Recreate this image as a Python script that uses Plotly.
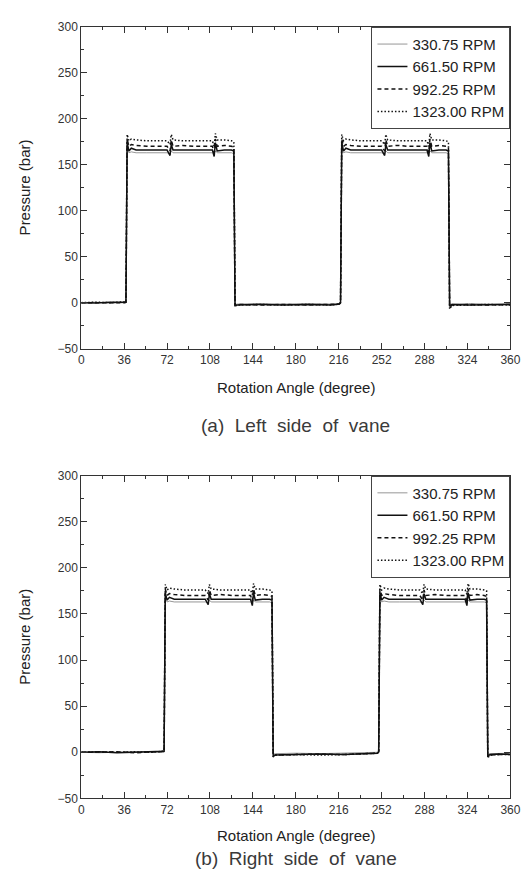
import plotly.graph_objects as go

# ---------------- data ----------------
series_names = ["330.75 RPM", "661.50 RPM", "992.25 RPM", "1323.00 RPM"]

# (a) Left side of vane
angle_a = [0, 12, 24, 36.5,
           37.5, 38.5, 40, 42, 46, 55, 65, 72, 74.5, 75.5, 77, 85, 95, 105, 110, 111.5, 112.5, 114, 120, 126, 128, 129,
           131, 150, 170, 190, 210, 216.5,
           217.5, 218.5, 220, 222, 226, 235, 245, 252, 254.5, 255.5, 257, 265, 275, 285, 290, 291.5, 292.5, 294, 300, 306, 308, 309,
           311, 325, 340, 360]

p_a_330 = [0, 0.5, -0.5, 0,
           0, 168, 163, 164, 163, 163, 163, 163, 162, 165, 163, 163, 163, 163, 163, 162, 165, 163, 163, 163, 162, -2,
           -1.5, -1, -1.5, -1, -1.5, -1,
           0, 168, 163, 164, 163, 163, 163, 163, 162, 165, 163, 163, 163, 163, 163, 162, 165, 163, 163, 163, 162, -2,
           -1.5, -1, -1.5, -1]
p_a_661 = [0, -0.5, 0.5, 0.5,
           0.5, 174, 165, 168, 166, 166, 166, 166, 160, 172, 166, 166, 166, 166, 166, 159, 174, 165, 166, 166, 165, -3,
           -2.5, -2, -2.5, -2, -2.5, -1.5,
           0, 174, 165, 168, 166, 166, 166, 166, 160, 172, 166, 166, 166, 166, 166, 159, 174, 165, 166, 166, 165, -4,
           -2, -2.5, -2, -2]
p_a_992 = [0, 0, -0.5, 0,
           0.5, 178, 170, 172, 171, 170, 170, 170, 165, 177, 170, 171, 170, 170, 170, 163, 178, 170, 171, 170, 169, -3,
           -2, -2.5, -2, -2.5, -2, -1.5,
           0, 178, 170, 172, 171, 170, 170, 170, 165, 177, 170, 171, 170, 170, 170, 163, 178, 170, 171, 170, 169, -5,
           -2.5, -2, -2.5, -2]
p_a_1323 = [0, 0.5, 0, 0.5,
            1, 183, 176, 178, 177, 176, 176, 176, 172, 183, 177, 176, 176, 176, 176, 170, 184, 177, 177, 176, 175, -4,
            -2.5, -2, -2.5, -2, -2.5, -1.5,
            0.5, 183, 176, 178, 177, 176, 176, 176, 172, 183, 177, 176, 176, 176, 176, 170, 184, 177, 177, 176, 175, -7,
            -3, -2.5, -2, -2.5]

# (b) Right side of vane
angle_b = [0, 15, 30, 45, 60, 68.5,
           69.5, 70.5, 72, 74, 78, 87, 97, 104, 106.5, 107.5, 109, 117, 127, 137, 142, 143.5, 144.5, 146, 152, 158, 160, 161,
           163, 180, 200, 220, 240, 248.5,
           249.5, 250.5, 252, 254, 258, 267, 277, 284, 286.5, 287.5, 289, 297, 307, 317, 322, 323.5, 324.5, 326, 332, 338, 340, 341,
           343, 350, 360]

p_b_330 = [0, -0.5, 0, 0.5, 0, 0,
           0, 167, 163, 164, 163, 163, 163, 163, 162, 165, 163, 163, 163, 163, 163, 162, 165, 163, 163, 163, 162, -2,
           -1.5, -1, -1.5, -1, -1, -0.5,
           0, 167, 163, 164, 163, 163, 163, 163, 162, 165, 163, 163, 163, 163, 163, 162, 165, 163, 163, 163, 162, -2,
           -1.5, -1, -1]
p_b_661 = [0, 0.5, -0.5, 0, 0.5, 0.5,
           1, 173, 165, 168, 166, 166, 166, 166, 160, 172, 166, 166, 166, 166, 166, 159, 173, 165, 166, 166, 165, -4,
           -3, -2.5, -2, -2.5, -2, -1,
           0.5, 173, 165, 168, 166, 166, 166, 166, 160, 172, 166, 166, 166, 166, 166, 159, 173, 165, 166, 166, 165, -4,
           -2.5, -2, -2.5]
p_b_992 = [0, 0, 0.5, -0.5, 0, 0.5,
           1, 177, 170, 172, 171, 170, 170, 170, 165, 176, 170, 171, 170, 170, 170, 164, 177, 170, 171, 170, 169, -4,
           -3, -2.5, -2, -2.5, -2, -1,
           0.5, 177, 170, 172, 171, 170, 170, 170, 165, 176, 170, 171, 170, 170, 170, 164, 177, 170, 171, 170, 169, -5,
           -3, -2.5, -2]
p_b_1323 = [0, 0.5, 0, 0.5, 0, 1,
            1.5, 182, 176, 178, 177, 176, 176, 176, 172, 182, 177, 176, 176, 176, 176, 171, 183, 177, 177, 176, 175, -5,
            -3, -2.5, -3, -2.5, -2, -1,
            1, 182, 176, 178, 177, 176, 176, 176, 172, 182, 177, 176, 176, 176, 176, 171, 183, 177, 177, 176, 175, -6,
            -3, -2.5, -2.5]

x_ticks = [0, 36, 72, 108, 144, 180, 216, 252, 288, 324, 360]
y_ticks = [-50, 0, 50, 100, 150, 200, 250, 300]

# ---------------- styles ----------------
styles = [
    dict(color="#8a8a8a", width=0.9, dash="solid"),
    dict(color="#111111", width=1.5, dash="solid"),
    dict(color="#111111", width=1.5, dash="4px,3px"),
    dict(color="#111111", width=1.5, dash="1.5px,2px"),
]

fig = go.Figure()

data_a = [p_a_330, p_a_661, p_a_992, p_a_1323]
data_b = [p_b_330, p_b_661, p_b_992, p_b_1323]

for name, ys, st in zip(series_names, data_a, styles):
    fig.add_trace(go.Scatter(x=angle_a, y=ys, mode="lines", name=name, line=st,
                             xaxis="x", yaxis="y", legend="legend", showlegend=True))
for name, ys, st in zip(series_names, data_b, styles):
    fig.add_trace(go.Scatter(x=angle_b, y=ys, mode="lines", name=name, line=st,
                             xaxis="x2", yaxis="y2", legend="legend2", showlegend=True))

W, H = 530, 884
xd = [72 / W, 512 / W]
yd_a = [1 - 339 / H, 1 - 12 / H]
yd_b = [1 - 796 / H, 1 - 468 / H]

tickfont = dict(family="Liberation Sans, Arial", size=12, color="#333333")

def xaxis_cfg(anchor):
    return dict(domain=xd, anchor=anchor, range=[0, 360], tickvals=x_ticks, ticks="inside",
                ticklen=6, tickwidth=1, tickcolor="#333", showline=True, linecolor="#333",
                linewidth=1, mirror="ticks", showgrid=False, zeroline=False, tickfont=tickfont,
                minor=dict(ticks="inside", dtick=18, tick0=0, ticklen=3, tickcolor="#333", showgrid=False))

def yaxis_cfg(anchor, dom):
    return dict(domain=dom, anchor=anchor, range=[-50, 300], tickvals=y_ticks, ticks="inside",
                ticklen=6, tickwidth=1, tickcolor="#333", showline=True, linecolor="#333",
                linewidth=1, mirror="ticks", showgrid=False, zeroline=False, tickfont=tickfont,
                minor=dict(ticks="inside", dtick=25, tick0=0, ticklen=3, tickcolor="#333", showgrid=False))

legend_cfg = dict(xanchor="right", yanchor="top", bgcolor="white", bordercolor="#444", borderwidth=1,
                  font=dict(family="Liberation Sans, Arial", size=15, color="#222"),
                  tracegroupgap=0, itemwidth=30)

fig.update_layout(
    width=W, height=H,
    margin=dict(l=0, r=0, t=0, b=0),
    paper_bgcolor="white", plot_bgcolor="white",
    xaxis=xaxis_cfg("y"), yaxis=yaxis_cfg("x", yd_a),
    xaxis2=xaxis_cfg("y2"), yaxis2=yaxis_cfg("x2", yd_b),
    legend=dict(x=xd[1], y=yd_a[1], **legend_cfg),
    legend2=dict(x=xd[1], y=yd_b[1], **legend_cfg),
)

lab = dict(family="Liberation Sans, Arial", size=15, color="#222")
cap = dict(family="Liberation Sans, Arial", size=19, color="#3a3a3a")
xc = (xd[0] + xd[1]) / 2
ann = [
    dict(text="Rotation Angle (degree)", x=xc, y=1 - 378 / H, font=lab),
    dict(text="(a)  Left  side  of  vane".replace("  ", "\u00a0 "), x=xc, y=1 - 417 / H, font=cap),
    dict(text="Rotation Angle (degree)", x=xc, y=1 - 834 / H, font=lab),
    dict(text="(b)  Right  side  of  vane".replace("  ", "\u00a0 "), x=xc, y=1 - 857 / H, font=cap),
    dict(text="Pressure (bar)", x=14 / W, y=(yd_a[0] + yd_a[1]) / 2, font=lab, textangle=-90),
    dict(text="Pressure (bar)", x=14 / W, y=(yd_b[0] + yd_b[1]) / 2, font=lab, textangle=-90),
]
for a in ann:
    fig.add_annotation(xref="paper", yref="paper", showarrow=False, xanchor="center", yanchor="middle", **a)

fig.write_html("out.html")
